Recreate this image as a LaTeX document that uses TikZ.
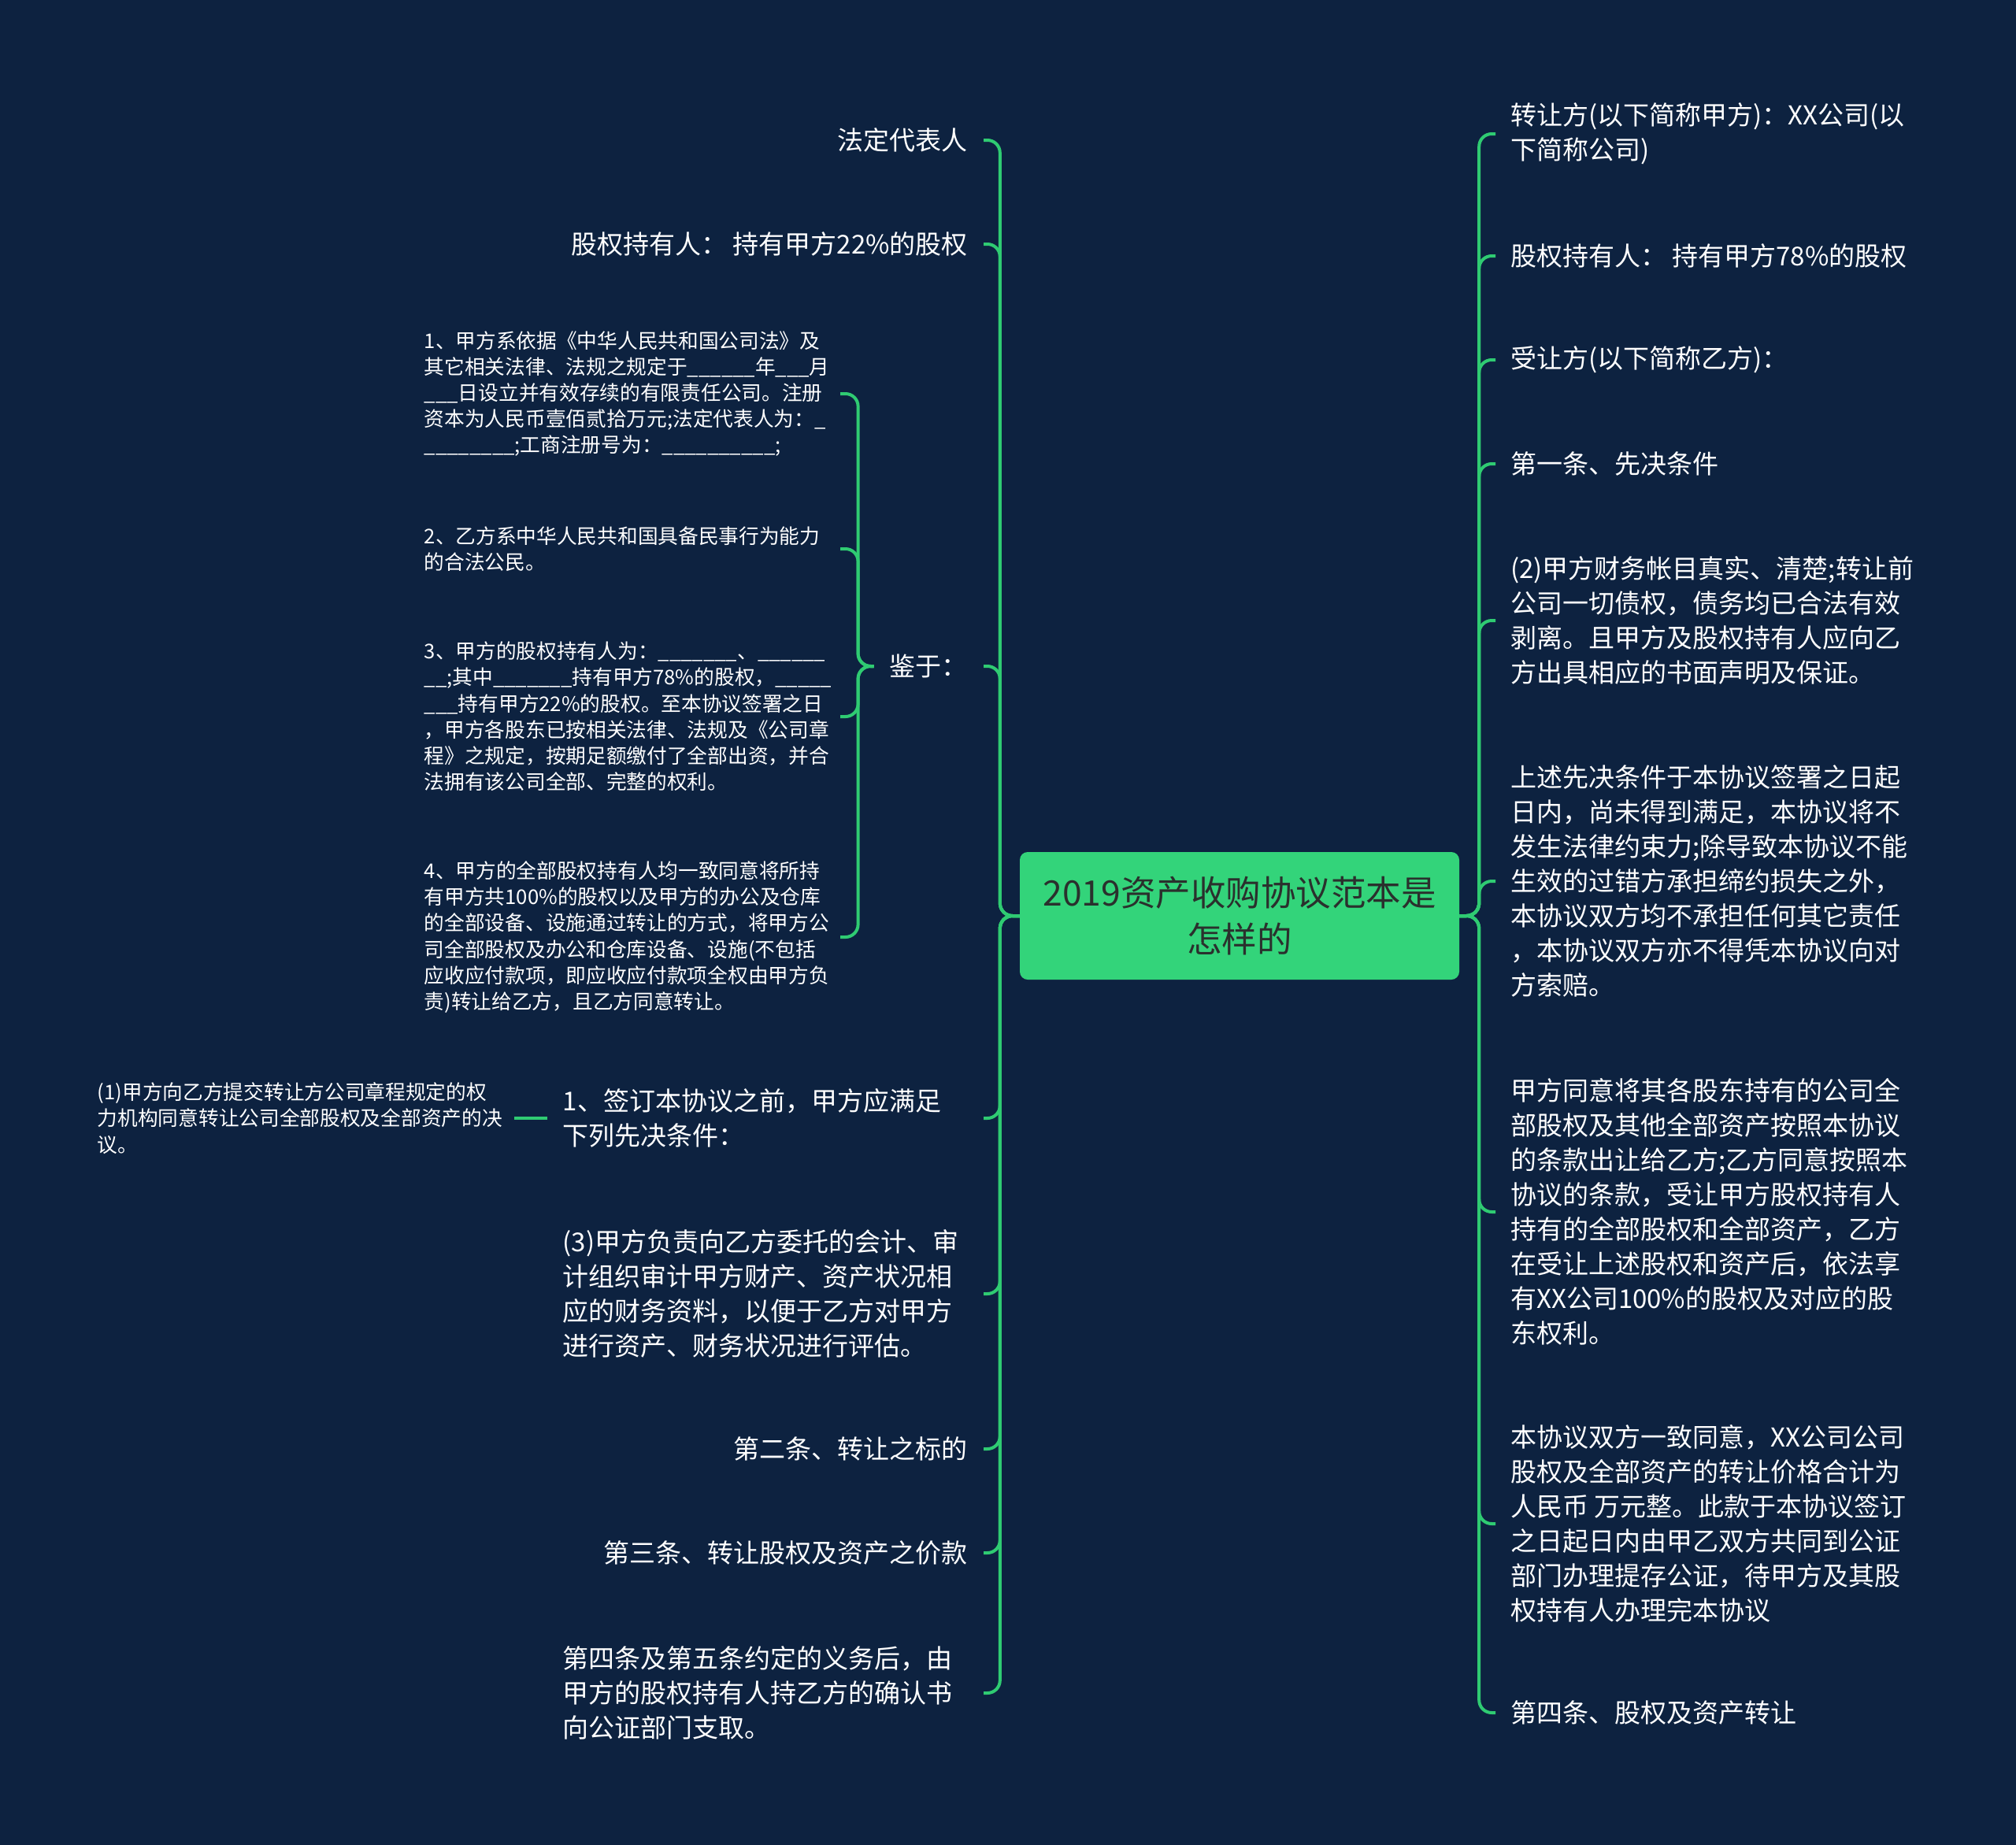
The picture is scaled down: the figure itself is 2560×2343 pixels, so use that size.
\documentclass[tikz,border=0pt]{standalone}
\usepackage{fontspec}
\setmainfont{Noto Sans CJK SC}
\definecolor{bg}{HTML}{0D2240}
\definecolor{ln}{HTML}{2FCB72}
\definecolor{rootfill}{HTML}{33D47A}
\definecolor{roottext}{HTML}{2A302D}
\tikzset{
  big/.style={font=\fontsize{33}{44}\selectfont, text=white, inner ysep=0pt, inner xsep=20pt, align=left},
  small/.style={font=\fontsize{25.7}{33.2}\selectfont, text=white, inner ysep=0pt, inner xsep=14pt, align=left, text width=514pt},
  conn/.style={draw=ln, line width=4pt, rounded corners=16pt},
  rootbox/.style={fill=rootfill, rounded corners=10pt, minimum width=558pt, minimum height=162pt, inner sep=0pt,
    font=\fontsize{44.5}{59}\selectfont, text=roottext, align=center}
}
\begin{document}
\begin{tikzpicture}[x=1pt,y=-1pt]
\fill[bg] (0,0) rectangle (2560,2343);
\useasboundingbox (0,0) rectangle (2560,2343);

\node[rootbox] (root) at (1574,1163) {2019资产收购协议范本是\\怎样的};

% left side
\node[big, anchor=east] (l1) at (1249,178) {法定代表人};
\node[big, anchor=east] (l2) at (1249,310) {股权持有人：\ 持有甲方22\%的股权};
\node[big, anchor=east] (l3) at (1249,846) {鉴于：};
\node[big, anchor=east, text width=514pt] (l4) at (1249,1420) {1、签订本协议之前，甲方应满足\\下列先决条件：};
\node[big, anchor=east, text width=514pt] (l5) at (1249,1643) {(3)甲方负责向乙方委托的会计、审\\计组织审计甲方财产、资产状况相\\应的财务资料，以便于乙方对甲方\\进行资产、财务状况进行评估。};
\node[big, anchor=east] (l6) at (1249,1840) {第二条、转让之标的};
\node[big, anchor=east] (l7) at (1249,1972) {第三条、转让股权及资产之价款};
\node[big, anchor=east, text width=514pt] (l8) at (1249,2150) {第四条及第五条约定的义务后，由\\甲方的股权持有人持乙方的确认书\\向公证部门支取。};

% children of 鉴于
\node[small, anchor=east] (j1) at (1067,500) {1、甲方系依据《中华人民共和国公司法》及\\其它相关法律、法规之规定于\_\_\_\_\_\_年\_\_\_月\\\_\_\_日设立并有效存续的有限责任公司。注册\\资本为人民币壹佰贰拾万元;法定代表人为：\_\\\_\_\_\_\_\_\_\_;工商注册号为：\_\_\_\_\_\_\_\_\_\_;};
\node[small, anchor=east] (j2) at (1067,697) {2、乙方系中华人民共和国具备民事行为能力\\的合法公民。};
\node[small, anchor=east] (j3) at (1067,910) {3、甲方的股权持有人为：\_\_\_\_\_\_\_、\_\_\_\_\_\_\\\_\_;其中\_\_\_\_\_\_\_持有甲方78\%的股权，\_\_\_\_\_\\\_\_\_持有甲方22\%的股权。至本协议签署之日\\，甲方各股东已按相关法律、法规及《公司章\\程》之规定，按期足额缴付了全部出资，并合\\法拥有该公司全部、完整的权利。};
\node[small, anchor=east] (j4) at (1067,1190) {4、甲方的全部股权持有人均一致同意将所持\\有甲方共100\%的股权以及甲方的办公及仓库\\的全部设备、设施通过转让的方式，将甲方公\\司全部股权及办公和仓库设备、设施(不包括\\应收应付款项，即应收应付款项全权由甲方负\\责)转让给乙方，且乙方同意转让。};

% child of l4
\node[small, anchor=east, inner xsep=15pt] (c1) at (653,1420) {(1)甲方向乙方提交转让方公司章程规定的权\\力机构同意转让公司全部股权及全部资产的决\\议。};

% right side
\node[big, anchor=west, inner xsep=19pt] (r1) at (1899,170) {转让方(以下简称甲方)：XX公司(以\\下简称公司)};
\node[big, anchor=west, inner xsep=19pt] (r2) at (1899,325) {股权持有人：\ 持有甲方78\%的股权};
\node[big, anchor=west, inner xsep=19pt] (r3) at (1899,457) {受让方(以下简称乙方)：};
\node[big, anchor=west, inner xsep=19pt] (r4) at (1899,589) {第一条、先决条件};
\node[big, anchor=west, inner xsep=19pt] (r5) at (1899,788) {(2)甲方财务帐目真实、清楚;转让前\\公司一切债权，债务均已合法有效\\剥离。且甲方及股权持有人应向乙\\方出具相应的书面声明及保证。};
\node[big, anchor=west, inner xsep=19pt] (r6) at (1899,1119) {上述先决条件于本协议签署之日起\\日内，尚未得到满足，本协议将不\\发生法律约束力;除导致本协议不能\\生效的过错方承担缔约损失之外，\\本协议双方均不承担任何其它责任\\，本协议双方亦不得凭本协议向对\\方索赔。};
\node[big, anchor=west, inner xsep=19pt] (r7) at (1899,1539) {甲方同意将其各股东持有的公司全\\部股权及其他全部资产按照本协议\\的条款出让给乙方;乙方同意按照本\\协议的条款，受让甲方股权持有人\\持有的全部股权和全部资产，乙方\\在受让上述股权和资产后，依法享\\有XX公司100\%的股权及对应的股\\东权利。};
\node[big, anchor=west, inner xsep=19pt] (r8) at (1899,1935) {本协议双方一致同意，XX公司公司\\股权及全部资产的转让价格合计为\\人民币 万元整。此款于本协议签订\\之日起日内由甲乙双方共同到公证\\部门办理提存公证，待甲方及其股\\权持有人办理完本协议};
\node[big, anchor=west, inner xsep=19pt] (r9) at (1899,2175) {第四条、股权及资产转让};

% connectors left
\foreach \n in {l1,l2,l3,l4,l5,l6,l7,l8}
  \draw[conn] (root.west) -- ++(-25,0) |- (\n.east);
% connectors right
\foreach \n in {r1,r2,r3,r4,r5,r6,r7,r8,r9}
  \draw[conn] (root.east) -- ++(25,0) |- (\n.west);
% 鉴于 subtree
\foreach \n in {j1,j2,j3,j4}
  \draw[conn] (l3.west) -- ++(-20,0) |- (\n.east);
% l4 child
\draw[conn] (l4.west) -- (c1.east);
\end{tikzpicture}
\end{document}
